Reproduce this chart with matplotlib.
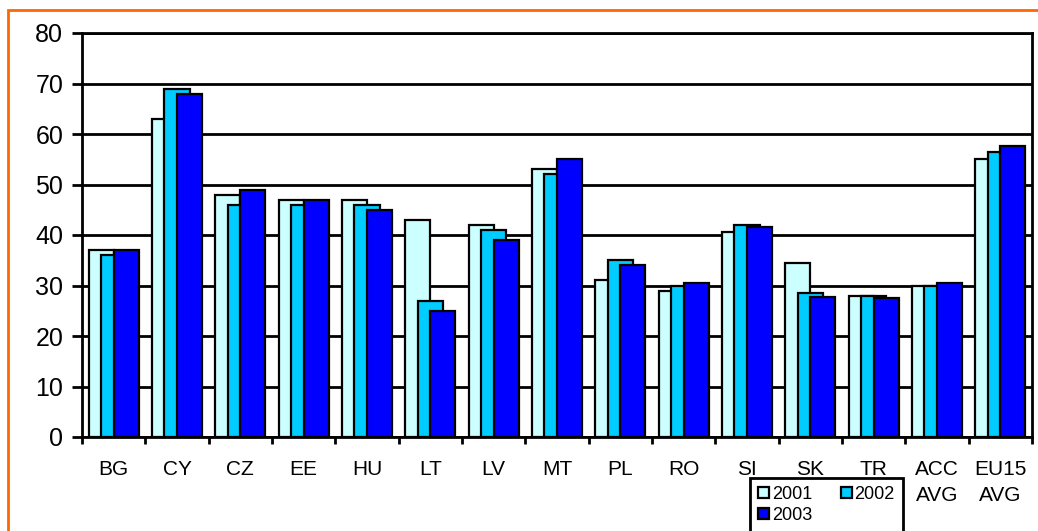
import matplotlib
matplotlib.use("Agg")
import matplotlib.pyplot as plt
import numpy as np
from matplotlib.patches import Rectangle

plt.rcParams['font.family'] = ['Liberation Sans', 'DejaVu Sans']

categories = ["BG", "CY", "CZ", "EE", "HU", "LT", "LV", "MT", "PL", "RO",
              "SI", "SK", "TR", "ACC\nAVG", "EU15\nAVG"]
v2001 = [37, 63, 48, 47, 47, 43, 42, 53, 31, 29, 40.5, 34.5, 28, 30, 55]
v2002 = [36, 69, 46, 46, 46, 27, 41, 52, 35, 30, 42, 28.5, 28, 30, 56.5]
v2003 = [37, 68, 49, 47, 45, 25, 39, 55, 34, 30.5, 41.6, 27.8, 27.5, 30.5, 57.6]
series = [("2001", v2001, "#CCFFFF"), ("2002", v2002, "#00CCFF"), ("2003", v2003, "#0000FF")]
yticks = [0, 10, 20, 30, 40, 50, 60, 70, 80]

W, H = 1038, 531
fig = plt.figure(figsize=(W / 100, H / 100), dpi=100)
fig.patches.append(Rectangle((8 / W, -0.1), 1.2, 1 - 10 / H + 0.1, transform=fig.transFigure,
                             fill=False, edgecolor="#FF6600", linewidth=2.0, zorder=0))

ax = fig.add_axes([82 / W, 1 - 437 / H, (1032 - 82) / W, (437 - 33) / H])
x = np.arange(len(categories))
bw = 0.395
step = 0.197
bars = []
for i, (name, vals, col) in enumerate(series):
    b = ax.bar(x + (i - 1) * step, vals, width=bw, color=col, edgecolor="black",
               linewidth=1.6, label=name, zorder=3 + i)
    bars.append(b)

ax.set_xlim(-0.5, len(categories) - 0.5)
ax.set_ylim(0, 80)
ax.set_yticks(yticks)
ax.set_yticklabels([str(t) for t in yticks], fontsize=18)
ax.yaxis.grid(True, color="black", linewidth=2.0, zorder=1)
ax.set_axisbelow(True)
ax.tick_params(axis='y', length=7, width=2, pad=6.5, direction='out')
ax.set_xticks(x)
ax.set_xticklabels(categories, fontsize=15, linespacing=1.5)
ax.tick_params(axis='x', which='major', length=0, pad=16.5)
ax.set_xticks(np.arange(-0.5, len(categories)), minor=True)
ax.tick_params(axis='x', which='minor', length=5, width=2, direction='out')
for s in ax.spines.values():
    s.set_linewidth(2.0)
    s.set_color("black")

order = [0, 2, 1]
leg = fig.legend([bars[k] for k in order], [series[k][0] for k in order],
                 loc="upper left", bbox_to_anchor=(750 / W, 1 - 478 / H), ncol=2,
                 fontsize=13, frameon=True, fancybox=False, framealpha=1,
                 edgecolor="black", handlelength=0.6, handleheight=0.6,
                 handletextpad=0.15, columnspacing=1.6, borderpad=0.45,
                 labelspacing=0.22, borderaxespad=0)
leg.get_frame().set_linewidth(2.0)

fig.savefig("out.png", dpi=100)
